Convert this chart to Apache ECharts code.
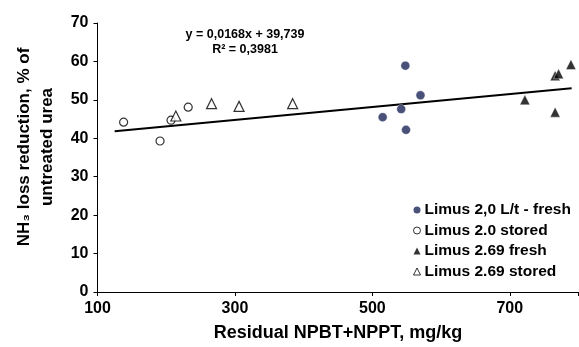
<!DOCTYPE html>
<html><head><meta charset="utf-8">
<script src="https://cdn.jsdelivr.net/npm/echarts@6/dist/echarts.min.js"></script>
<style>html,body{margin:0;padding:0;background:#fff}#c{width:579px;height:347px}</style>
</head><body><div id="c"></div>
<script>
const limus20Fresh = [[515,45.5],[542,47.6],[548,58.9],[549,42.2],[570,51.2]];
const limus20Stored = [[138,44.2],[191,39.3],[207,44.7],[232,48.1]];
const limus269Fresh = [[722,50.0],[766,46.8],[766,56.3],[771,56.8],[789,59.2]];
const limus269Stored = [[214,45.8],[266,49.0],[306,48.3],[384,49.0]];
const trendSlope = 0.0168, trendIntercept = 39.739;
const trendX = [125, 790];
const xTicks = [100, 300, 500, 700];
const names = ['Limus 2,0 L/t - fresh','Limus 2.0 stored','Limus 2.69 fresh','Limus 2.69 stored'];
const eqText = ['y = 0,0168x + 39,739', 'R² = 0,3981'];

const FONT = '"Liberation Sans", Arial, sans-serif';
const chart = echarts.init(document.getElementById('c'), null, {renderer:'canvas'});
const trend = trendX.map(x => [x, trendSlope * x + trendIntercept]);
chart.setOption({
  animation:false,
  grid:{left:97.5, right:0.5, top:23, bottom:55, containLabel:false, outerBoundsMode:'none'},
  xAxis:{type:'value', min:100, max:800, interval:200,
    axisLine:{lineStyle:{color:'#000', width:1}}, axisTick:{show:true, length:4, lineStyle:{color:'#000'}},
    splitLine:{show:false},
    axisLabel:{color:'#000', fontWeight:'bold', fontSize:16, fontFamily:FONT, margin:9,
      formatter: v => xTicks.includes(v) ? String(v) : ''},
    name:'Residual NPBT+NPPT, mg/kg', nameLocation:'middle', nameGap:32,
    nameTextStyle:{color:'#000', fontWeight:'bold', fontSize:18, fontFamily:FONT}},
  yAxis:{type:'value', min:0, max:70, interval:10,
    axisLine:{show:true, lineStyle:{color:'#000', width:1}}, axisTick:{show:true, length:4, lineStyle:{color:'#000'}},
    splitLine:{show:false},
    axisLabel:{color:'#000', fontWeight:'bold', fontSize:16, fontFamily:FONT, margin:9}},
  legend:{orient:'vertical', left:408, top:197, itemWidth:7, itemHeight:7, itemGap:4.5,
    textStyle:{color:'#000', fontWeight:'bold', fontSize:15.5, fontFamily:FONT, padding:[0,0,0,-1]},
    data:[
      {name:names[0], itemStyle:{borderWidth:0}},
      {name:names[1], itemStyle:{borderWidth:1}},
      {name:names[2], itemStyle:{borderWidth:0}},
      {name:names[3], itemStyle:{borderWidth:1}}
    ]},
  graphic:[
    {type:'text', x:35.5, y:147, rotation:Math.PI/2,
      style:{text:'NH\u2083 loss reduction, % of\nuntreated urea', font:'bold 17px '+FONT, fill:'#000',
        textAlign:'center', textVerticalAlign:'middle', lineHeight:23}},
    {type:'text', x:245, y:42.5,
      style:{text:eqText.join('\n'), font:'bold 12.5px '+FONT, fill:'#000', textAlign:'center', textVerticalAlign:'middle', lineHeight:15}}
  ],
  series:[
    {type:'line', data:trend, showSymbol:false, lineStyle:{color:'#000', width:2}, silent:true, z:1},
    {name:names[0], type:'scatter', data:limus20Fresh, symbol:'circle', symbolSize:9,
      itemStyle:{color:'#1c2557', borderColor:'#fff', borderWidth:0.5}, z:3},
    {name:names[1], type:'scatter', data:limus20Stored, symbol:'circle', symbolSize:8,
      itemStyle:{color:'#fff', borderColor:'#000', borderWidth:1.2}, z:3},
    {name:names[2], type:'scatter', data:limus269Fresh, symbol:'triangle', symbolSize:[10,10],
      itemStyle:{color:'#000', borderColor:'#fff', borderWidth:0.5}, z:3},
    {name:names[3], type:'scatter', data:limus269Stored, symbol:'triangle', symbolSize:[10,10],
      itemStyle:{color:'#fff', borderColor:'#000', borderWidth:1.2}, z:3}
  ]
});
</script></body></html>
